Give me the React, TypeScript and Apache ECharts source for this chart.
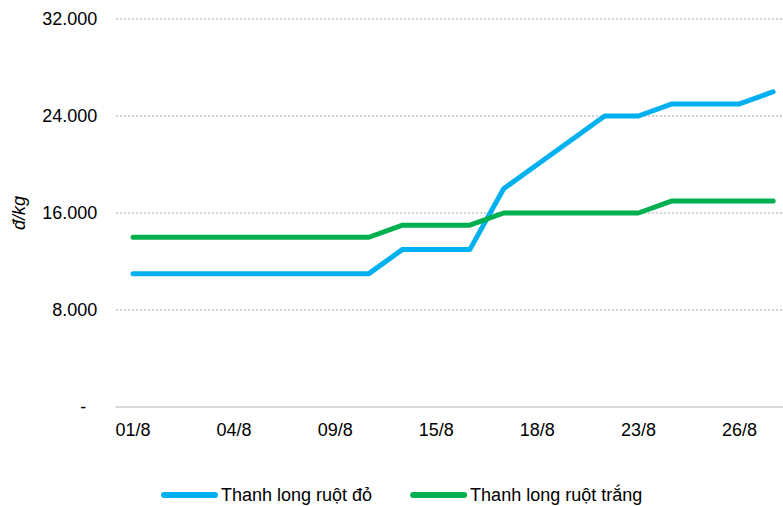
import React, { useEffect, useRef } from "react";
import * as echarts from "echarts";

const categories = [
  "01/8", "02/8", "03/8", "04/8", "05/8", "08/8", "09/8", "10/8", "11/8", "15/8",
  "16/8", "17/8", "18/8", "19/8", "22/8", "23/8", "24/8", "25/8", "26/8", "29/8",
];
const redFlesh = [
  11000, 11000, 11000, 11000, 11000, 11000, 11000, 11000, 13000, 13000,
  13000, 18000, 20000, 22000, 24000, 24000, 25000, 25000, 25000, 26000,
];
const whiteFlesh = [
  14000, 14000, 14000, 14000, 14000, 14000, 14000, 14000, 15000, 15000,
  15000, 16000, 16000, 16000, 16000, 16000, 17000, 17000, 17000, 17000,
];
const seriesNames = ["Thanh long ruột đỏ", "Thanh long ruột trắng"];
const yTicks = { min: 0, max: 32000, interval: 8000 };

const FONT = 'Arial, "Liberation Sans", sans-serif';

export default function App() {
  const ref = useRef<HTMLDivElement>(null);
  useEffect(() => {
    if (!ref.current) return;
    const chart = echarts.init(ref.current, null, { renderer: "svg" });
    const pill = "path://M3,0 L54,0 A3,3 0 0 1 54,6 L3,6 A3,3 0 0 1 3,0 Z";
    chart.setOption({
      animation: false,
      backgroundColor: "#ffffff",
      grid: { left: 116.2, right: 0, top: 19, bottom: 99, containLabel: false },
      legend: {
        left: 156,
        top: 481,
        itemWidth: 57,
        itemHeight: 6,
        itemGap: 38,
        icon: pill,
        textStyle: {
          fontFamily: FONT,
          fontSize: 18,
          lineHeight: 16,
          color: "#000000",
          padding: [0, 0, 0, -2],
        },
        data: seriesNames,
      },
      xAxis: {
        type: "category",
        data: categories,
        boundaryGap: true,
        axisLine: { show: true, lineStyle: { color: "#d9d9d9", width: 2 } },
        axisTick: { show: false },
        axisLabel: {
          interval: 2,
          margin: 14,
          fontFamily: FONT,
          fontSize: 18,
          color: "#000000",
        },
        splitLine: { show: false },
      },
      yAxis: {
        type: "value",
        min: yTicks.min,
        max: yTicks.max,
        interval: yTicks.interval,
        name: "đ/kg",
        nameLocation: "middle",
        nameRotate: 90,
        nameGap: 88,
        nameTextStyle: { fontFamily: FONT, fontSize: 18, fontStyle: "italic", color: "#000000" },
        axisLine: { show: false },
        axisTick: { show: false },
        axisLabel: {
          margin: 19,
          fontFamily: FONT,
          fontSize: 18,
          color: "#000000",
          formatter: (v: number) =>
            v === 0 ? "{d|-}" : v.toLocaleString("en-US").replace(/,/g, "."),
          rich: {
            d: { fontFamily: FONT, fontSize: 18, color: "#000000", padding: [0, 11, 0, 0] },
          },
        },
        splitLine: {
          show: true,
          lineStyle: { color: "#d0d0d0", width: 2, type: [2, 2] },
        },
      },
      series: [
        {
          name: seriesNames[0],
          type: "line",
          data: redFlesh,
          symbol: "none",
          color: "#00B0F0",
          lineStyle: { color: "#00B0F0", width: 5, cap: "round", join: "round" },
        },
        {
          name: seriesNames[1],
          type: "line",
          data: whiteFlesh,
          symbol: "none",
          color: "#00B050",
          lineStyle: { color: "#00B050", width: 5, cap: "round", join: "round" },
        },
      ],
    });
    return () => chart.dispose();
  }, []);
  return (
    <div
      style={{ position: "absolute", left: 0, top: 0, width: 783, height: 506, overflow: "hidden", background: "#fff" }}
    >
      <div ref={ref} style={{ width: 790, height: 506 }} />
    </div>
  );
}
